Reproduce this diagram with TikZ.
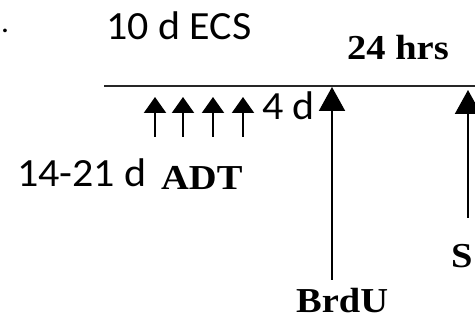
\documentclass[tikz,border=0pt]{standalone}
\usepackage{fontspec}
\usetikzlibrary{arrows.meta}
\newfontfamily\calfont[FakeStretch=1.05]{Carlito}
\newfontfamily\serfont[FakeStretch=1.1]{Liberation Serif}
\tikzset{
  sans/.style={font=\calfont\fontsize{40}{48}\selectfont, anchor=base west, inner sep=0pt},
  bold/.style={font=\serfont\bfseries\fontsize{35}{42}\selectfont, anchor=base west, inner sep=0pt},
  axis/.style={line width=2pt, draw=black!85},
  smallarrow/.style={line width=2.2pt, -{Triangle[width=22pt,length=16pt]}},
  bigarrow/.style={line width=2pt, -{Triangle[width=26pt,length=24pt]}}
}
\begin{document}
\begin{tikzpicture}[x=1pt,y=-1pt]
\useasboundingbox (0,0) rectangle (475,323);
% axis
\coordinate (axL) at (104,86);
\coordinate (axR) at (476,86);
\draw[axis] (axL) -- (axR);
% small arrows
\foreach \i/\x in {1/155,2/183,3/213,4/243}{
  \coordinate (sb\i) at (\x,137);
  \coordinate (st\i) at (\x,97);
  \draw[smallarrow] (sb\i) -- (st\i);
}
% big arrows
\coordinate (bb) at (332,280);
\coordinate (bt) at (332,87);
\draw[bigarrow] (bb) -- (bt);
\coordinate (sbS) at (468,218);
\coordinate (stS) at (468,90);
\draw[bigarrow] (sbS) -- (stS);
% texts
\node[sans] (dot) at (1,33) {\fontsize{30}{36}\selectfont .};
\node[sans] (ecs) at (106,40) {10 d ECS};
\node[sans] (fourd) at (262,120) {4 d};
\node[sans] (days) at (17,187) {14-21 d};
\node[bold] (hrs) at (347,60) {24 hrs};
\node[bold] (adt) at (161,190) {ADT};
\node[bold] (s) at (451,268) {S};
\node[bold] (brdu) at (296,313) {BrdU};
\end{tikzpicture}
\end{document}
